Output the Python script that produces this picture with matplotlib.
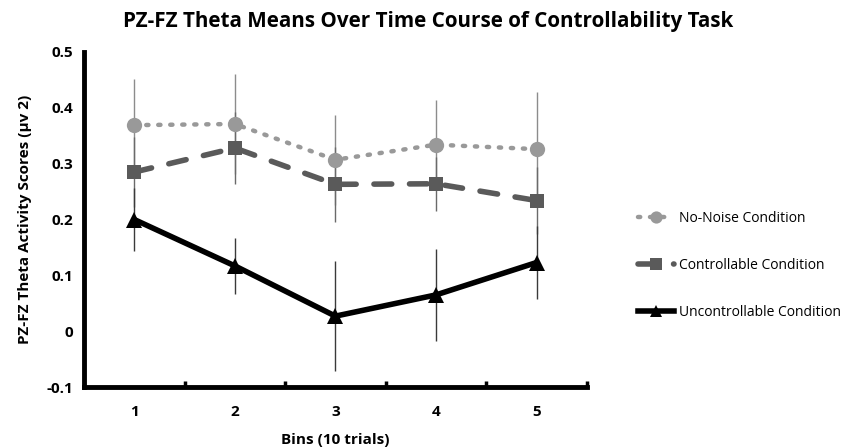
import matplotlib.pyplot as plt
from matplotlib.ticker import FixedLocator

plt.rcParams['font.family'] = ['Open Sans', 'DejaVu Sans']

bins = [1, 2, 3, 4, 5]
no_noise = [0.369, 0.371, 0.307, 0.334, 0.326]
no_noise_err = [0.082, 0.089, 0.081, 0.080, 0.102]
controllable = [0.285, 0.328, 0.263, 0.264, 0.234]
controllable_err = [0.062, 0.065, 0.067, 0.048, 0.060]
uncontrollable = [0.200, 0.117, 0.027, 0.065, 0.123]
uncontrollable_err = [0.057, 0.050, 0.099, 0.082, 0.066]

fig = plt.figure(figsize=(8.48, 4.48), dpi=100)
ax = fig.add_axes([0.099, 0.136, 0.593, 0.748])

# error bars first, thin lines without caps
for vals, errs, col in [(no_noise, no_noise_err, '#8c8c8c'),
                        (controllable, controllable_err, '#6a6a6a'),
                        (uncontrollable, uncontrollable_err, '#3a3a3a')]:
    ax.errorbar(bins, vals, yerr=errs, fmt='none', ecolor=col, elinewidth=1.0, capsize=0, zorder=1)

ax.plot(bins, no_noise, color='#999999', linestyle=(0, (0.5, 2.2)), dash_capstyle='round',
        linewidth=3.2, marker='o', markersize=11, markeredgewidth=0, label='No-Noise Condition', zorder=3)
ax.plot(bins, controllable, color='#5a5a5a', linestyle=(0, (3.2, 3.2)), dash_capstyle='round',
        linewidth=4, marker='s', markersize=10, markeredgewidth=0, label='Controllable Condition', zorder=3)
ax.plot(bins, uncontrollable, color='black', linestyle='-', linewidth=4,
        marker='^', markersize=11, markeredgewidth=0, label='Uncontrollable Condition', zorder=4)

ax.set_xlim(0.5, 5.5)
ax.set_ylim(-0.1, 0.5)
ax.set_xticks(bins)
ax.xaxis.set_minor_locator(FixedLocator([1.5, 2.5, 3.5, 4.5, 5.5]))
ax.set_yticks([-0.1, 0, 0.1, 0.2, 0.3, 0.4, 0.5])
ax.set_yticklabels(['-0.1', '0', '0.1', '0.2', '0.3', '0.4', '0.5'])
ax.tick_params(axis='x', which='major', length=0, labelsize=11, pad=13)
ax.tick_params(axis='x', which='minor', length=4, width=2.5, direction='in')
ax.tick_params(axis='y', length=0, labelsize=11, pad=8)
for lbl in ax.get_xticklabels() + ax.get_yticklabels():
    lbl.set_fontweight('bold')

for s in ['top', 'right']:
    ax.spines[s].set_visible(False)
for s in ['left', 'bottom']:
    ax.spines[s].set_linewidth(3.5)

ax.set_xlabel('Bins (10 trials)', fontsize=11, fontweight='bold', labelpad=10)
ax.set_ylabel('PZ-FZ Theta Activity Scores (\u03bcv 2)', fontsize=11, fontweight='bold', labelpad=10)
fig.suptitle('PZ-FZ Theta Means Over Time Course of Controllability Task', fontsize=14.9,
             fontweight='bold', x=0.505, y=0.975)

ax.legend(loc='center left', bbox_to_anchor=(1.09, 0.364), frameon=False, fontsize=10,
          handlelength=2.6, labelspacing=2.3, handletextpad=0.4, markerscale=0.8,
          borderaxespad=0)

fig.savefig('out.png', dpi=100)
